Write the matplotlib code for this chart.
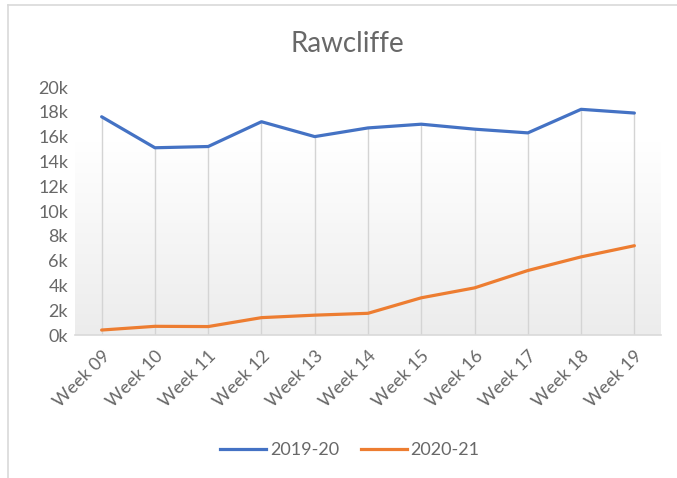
import numpy as np
import matplotlib.pyplot as plt
from matplotlib.lines import Line2D

weeks = ["Week 09", "Week 10", "Week 11", "Week 12", "Week 13", "Week 14",
         "Week 15", "Week 16", "Week 17", "Week 18", "Week 19"]
s2019 = [17600, 15100, 15200, 17200, 16000, 16700, 17000, 16600, 16300, 18200, 17900]
s2020 = [400, 700, 680, 1400, 1600, 1750, 3000, 3800, 5200, 6300, 7200]

plt.rcParams['font.family'] = ['Lato', 'DejaVu Sans']
txt = '#686868'

fig = plt.figure(figsize=(6.77, 4.78), dpi=100)
ax = fig.add_axes([75 / 677, 143 / 478, 586 / 677, 248 / 478])

x = np.arange(len(weeks))

# soft gradient behind the plot, as in the Excel style
grad = np.linspace(0, 1, 256).reshape(-1, 1)
ax.imshow(grad, cmap=plt.matplotlib.colors.LinearSegmentedColormap.from_list(
    'g', ['#ececec', '#ffffff']), extent=(-0.5, 10.5, 0, 15500),
    origin='lower', aspect='auto', zorder=0)

# drop lines
tops = np.maximum(s2019, s2020)
ax.vlines(x, 0, tops, color='#d4d4d4', lw=1, zorder=1)

ax.plot(x, s2019, color='#4472C4', lw=2.3, label='2019-20', zorder=3,
        solid_capstyle='round')
ax.plot(x, s2020, color='#ED7D31', lw=2.3, label='2020-21', zorder=3,
        solid_capstyle='round')

ax.set_xlim(-0.5, 10.5)
ax.set_ylim(0, 20000)
ax.set_yticks(range(0, 20001, 2000))
ax.set_yticklabels([f"{v // 1000}k" for v in range(0, 20001, 2000)])
ax.set_xticks(x)
ax.set_xticklabels(weeks, rotation=45, ha='right', rotation_mode='anchor')
ax.tick_params(axis='both', length=0, labelsize=13, colors=txt)
ax.tick_params(axis='x', pad=9)
ax.tick_params(axis='y', pad=5)
for sp in ['top', 'right', 'left']:
    ax.spines[sp].set_visible(False)
ax.spines['bottom'].set_color('#d9d9d9')
ax.spines['bottom'].set_linewidth(1.2)

fig.text(347 / 677, 1 - 44 / 478, "Rawcliffe", ha='center', va='center',
         fontsize=20, color=txt)

handles = [Line2D([0], [0], color='#4472C4', lw=2.3),
           Line2D([0], [0], color='#ED7D31', lw=2.3)]
fig.legend(handles, ['2019-20', '2020-21'], loc='center',
           bbox_to_anchor=(350 / 677, 1 - 450 / 478), ncol=2, frameon=False,
           fontsize=13, labelcolor=txt, handlelength=2.55,
           handletextpad=0.2, columnspacing=1.2)

# chart frame
fig.add_artist(Line2D([8 / 677, 1], [1 - 5 / 478, 1 - 5 / 478],
                      color='#d9d9d9', lw=1.2))
fig.add_artist(Line2D([8 / 677, 8 / 677], [0, 1 - 5 / 478],
                      color='#d9d9d9', lw=1.2))

fig.savefig('out.png', dpi=100)
